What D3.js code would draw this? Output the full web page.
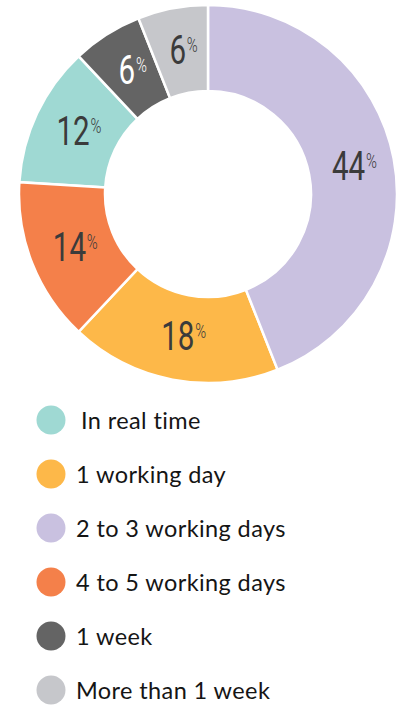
<!DOCTYPE html>
<html>
<head>
<meta charset="utf-8">
<script src="https://d3js.org/d3.v7.min.js"></script>
<style>
body { margin: 0; background: #fff; }
</style>
</head>
<body>
<script>
var categories = ["In real time", "1 working day", "2 to 3 working days", "4 to 5 working days", "1 week", "More than 1 week"];
var values = [12, 18, 44, 14, 6, 6];
var colors = ["#9fd9d3", "#fdb849", "#c9c1e0", "#f4804a", "#646464", "#c6c7cb"];
// order of the slices going clockwise from 12 o'clock
var pieOrder = ["2 to 3 working days", "1 working day", "4 to 5 working days", "In real time", "1 week", "More than 1 week"];

var w = 401, h = 706;
var cx = 208, cy = 194, outerR = 189, innerR = 103;

var svg = d3.select("body").append("svg")
  .attr("width", w)
  .attr("height", h);

var data = categories.map(function(c, i) {
  return {name: c, value: values[i], color: colors[i]};
});

var pie = d3.pie()
  .value(function(d) { return d.value; })
  .sort(function(a, b) { return pieOrder.indexOf(a.name) - pieOrder.indexOf(b.name); });

var arc = d3.arc().innerRadius(innerR).outerRadius(outerR);

var g = svg.append("g").attr("transform", "translate(" + cx + "," + cy + ")");

var arcs = pie(data);

g.selectAll("path")
  .data(arcs)
  .enter()
  .append("path")
  .attr("d", arc)
  .attr("fill", function(d) { return d.data.color; })
  .attr("stroke", "#fff")
  .attr("stroke-width", 2.5);

// percent labels, condensed by squeezing the text horizontally
var labels = g.selectAll("text.lbl")
  .data(arcs)
  .enter()
  .append("text")
  .attr("class", "lbl")
  .attr("transform", function(d) {
    var c = arc.centroid(d);
    return "translate(" + (c[0] + 3) + "," + (c[1] + 13) + ") scale(0.74,1)";
  })
  .attr("text-anchor", "middle")
  .attr("font-family", "Roboto, sans-serif")
  .attr("font-weight", 400)
  .attr("fill", function(d) { return d.data.name == "1 week" ? "#fff" : "#3b3b3b"; });

labels.append("tspan")
  .attr("font-size", 40)
  .text(function(d) { return d.data.value; });
labels.append("tspan")
  .attr("font-size", 20)
  .attr("font-weight", 300)
  .attr("dx", 1)
  .attr("dy", -12)
  .text("%");

// legend
var legend = svg.append("g");
var ly = d3.scalePoint().domain(categories).range([420, 690]);

var item = legend.selectAll("g")
  .data(data)
  .enter()
  .append("g")
  .attr("transform", function(d) { return "translate(0," + ly(d.name) + ")"; });

item.append("circle")
  .attr("cx", 51)
  .attr("cy", 0)
  .attr("r", 14.5)
  .attr("fill", function(d) { return d.color; });

item.append("text")
  .attr("x", function(d, i) { return i == 0 ? 81 : 76; })
  .attr("y", 9)
  .attr("font-family", "Lato, 'Open Sans', sans-serif")
  .attr("font-size", 23.5)
  .attr("letter-spacing", 0.4)
  .attr("fill", "#151515")
  .text(function(d) { return d.name; });
</script>
</body>
</html>
